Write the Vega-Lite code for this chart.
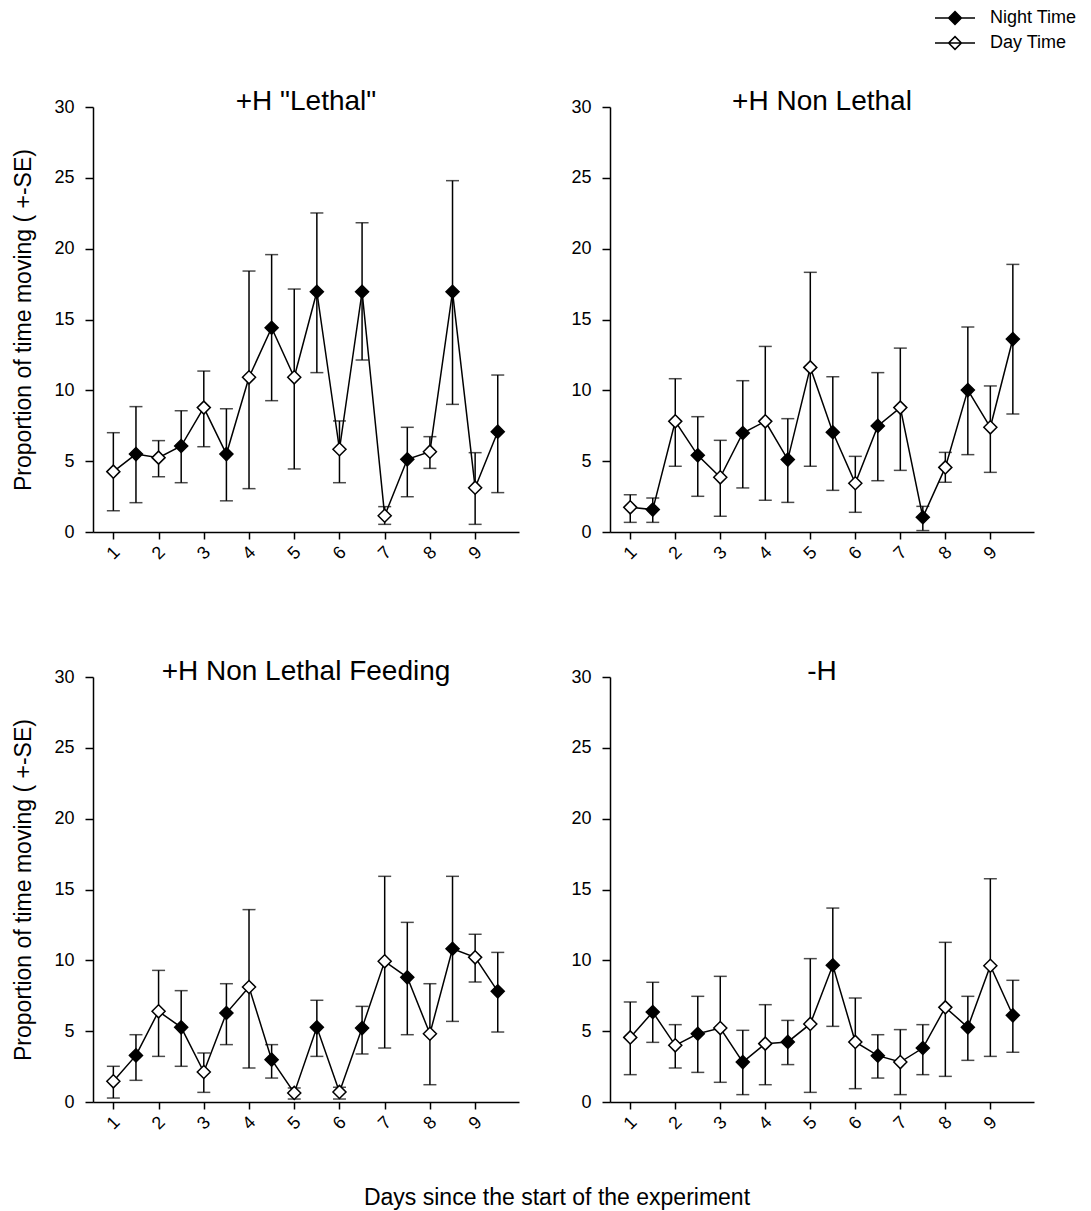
{
  "$schema": "https://vega.github.io/schema/vega-lite/v6.json",
  "background": "white",
  "padding": {"left": 12, "top": 7, "right": 5, "bottom": 5},
  "data": {
    "values": [
      {"panel": "L", "t": 1, "period": "Day Time", "mean": 4.26, "lo": 1.5, "hi": 7.01},
      {"panel": "L", "t": 1.5, "period": "Night Time", "mean": 5.5, "lo": 2.07, "hi": 8.85},
      {"panel": "L", "t": 2, "period": "Day Time", "mean": 5.25, "lo": 3.9, "hi": 6.45},
      {"panel": "L", "t": 2.5, "period": "Night Time", "mean": 6.07, "lo": 3.48, "hi": 8.56},
      {"panel": "L", "t": 3, "period": "Day Time", "mean": 8.78, "lo": 6.02, "hi": 11.36},
      {"panel": "L", "t": 3.5, "period": "Night Time", "mean": 5.5, "lo": 2.2, "hi": 8.7},
      {"panel": "L", "t": 4, "period": "Day Time", "mean": 10.92, "lo": 3.06, "hi": 18.42},
      {"panel": "L", "t": 4.5, "period": "Night Time", "mean": 14.42, "lo": 9.27, "hi": 19.58},
      {"panel": "L", "t": 5, "period": "Day Time", "mean": 10.92, "lo": 4.45, "hi": 17.15},
      {"panel": "L", "t": 5.5, "period": "Night Time", "mean": 16.96, "lo": 11.25, "hi": 22.52},
      {"panel": "L", "t": 6, "period": "Day Time", "mean": 5.84, "lo": 3.48, "hi": 7.84},
      {"panel": "L", "t": 6.5, "period": "Night Time", "mean": 16.96, "lo": 12.14, "hi": 21.83},
      {"panel": "L", "t": 7, "period": "Day Time", "mean": 1.15, "lo": 0.54, "hi": 1.79},
      {"panel": "L", "t": 7.5, "period": "Night Time", "mean": 5.13, "lo": 2.49, "hi": 7.39},
      {"panel": "L", "t": 8, "period": "Day Time", "mean": 5.67, "lo": 4.49, "hi": 6.73},
      {"panel": "L", "t": 8.5, "period": "Night Time", "mean": 16.96, "lo": 9.01, "hi": 24.8},
      {"panel": "L", "t": 9, "period": "Day Time", "mean": 3.13, "lo": 0.54, "hi": 5.6},
      {"panel": "L", "t": 9.5, "period": "Night Time", "mean": 7.08, "lo": 2.78, "hi": 11.08},

      {"panel": "NL", "t": 1, "period": "Day Time", "mean": 1.74, "lo": 0.68, "hi": 2.63},
      {"panel": "NL", "t": 1.5, "period": "Night Time", "mean": 1.58, "lo": 0.68, "hi": 2.4},
      {"panel": "NL", "t": 2, "period": "Day Time", "mean": 7.81, "lo": 4.64, "hi": 10.82},
      {"panel": "NL", "t": 2.5, "period": "Night Time", "mean": 5.41, "lo": 2.52, "hi": 8.14},
      {"panel": "NL", "t": 3, "period": "Day Time", "mean": 3.86, "lo": 1.11, "hi": 6.47},
      {"panel": "NL", "t": 3.5, "period": "Night Time", "mean": 6.99, "lo": 3.11, "hi": 10.68},
      {"panel": "NL", "t": 4, "period": "Day Time", "mean": 7.81, "lo": 2.24, "hi": 13.1},
      {"panel": "NL", "t": 4.5, "period": "Night Time", "mean": 5.11, "lo": 2.09, "hi": 8.0},
      {"panel": "NL", "t": 5, "period": "Day Time", "mean": 11.62, "lo": 4.64, "hi": 18.33},
      {"panel": "NL", "t": 5.5, "period": "Night Time", "mean": 7.04, "lo": 2.94, "hi": 10.96},
      {"panel": "NL", "t": 6, "period": "Day Time", "mean": 3.44, "lo": 1.39, "hi": 5.34},
      {"panel": "NL", "t": 6.5, "period": "Night Time", "mean": 7.49, "lo": 3.62, "hi": 11.25},
      {"panel": "NL", "t": 7, "period": "Day Time", "mean": 8.78, "lo": 4.35, "hi": 12.98},
      {"panel": "NL", "t": 7.5, "period": "Night Time", "mean": 1.04, "lo": 0.1, "hi": 1.81},
      {"panel": "NL", "t": 8, "period": "Day Time", "mean": 4.56, "lo": 3.51, "hi": 5.62},
      {"panel": "NL", "t": 8.5, "period": "Night Time", "mean": 10.02, "lo": 5.46, "hi": 14.47},
      {"panel": "NL", "t": 9, "period": "Day Time", "mean": 7.39, "lo": 4.21, "hi": 10.31},
      {"panel": "NL", "t": 9.5, "period": "Night Time", "mean": 13.62, "lo": 8.33, "hi": 18.89},

      {"panel": "F", "t": 1, "period": "Day Time", "mean": 1.46, "lo": 0.28, "hi": 2.52},
      {"panel": "F", "t": 1.5, "period": "Night Time", "mean": 3.29, "lo": 1.53, "hi": 4.75},
      {"panel": "F", "t": 2, "period": "Day Time", "mean": 6.4, "lo": 3.22, "hi": 9.29},
      {"panel": "F", "t": 2.5, "period": "Night Time", "mean": 5.27, "lo": 2.52, "hi": 7.86},
      {"panel": "F", "t": 3, "period": "Day Time", "mean": 2.12, "lo": 0.68, "hi": 3.46},
      {"panel": "F", "t": 3.5, "period": "Night Time", "mean": 6.28, "lo": 4.05, "hi": 8.35},
      {"panel": "F", "t": 4, "period": "Day Time", "mean": 8.12, "lo": 2.4, "hi": 13.58},
      {"panel": "F", "t": 4.5, "period": "Night Time", "mean": 2.99, "lo": 1.69, "hi": 4.05},
      {"panel": "F", "t": 5, "period": "Day Time", "mean": 0.64, "lo": 0.21, "hi": 0.99},
      {"panel": "F", "t": 5.5, "period": "Night Time", "mean": 5.27, "lo": 3.22, "hi": 7.18},
      {"panel": "F", "t": 6, "period": "Day Time", "mean": 0.71, "lo": 0.21, "hi": 1.04},
      {"panel": "F", "t": 6.5, "period": "Night Time", "mean": 5.22, "lo": 3.39, "hi": 6.75},
      {"panel": "F", "t": 7, "period": "Day Time", "mean": 9.93, "lo": 3.81, "hi": 15.93},
      {"panel": "F", "t": 7.5, "period": "Night Time", "mean": 8.8, "lo": 4.75, "hi": 12.68},
      {"panel": "F", "t": 8, "period": "Day Time", "mean": 4.82, "lo": 1.22, "hi": 8.35},
      {"panel": "F", "t": 8.5, "period": "Night Time", "mean": 10.82, "lo": 5.69, "hi": 15.93},
      {"panel": "F", "t": 9, "period": "Day Time", "mean": 10.21, "lo": 8.47, "hi": 11.84},
      {"panel": "F", "t": 9.5, "period": "Night Time", "mean": 7.81, "lo": 4.94, "hi": 10.56},

      {"panel": "C", "t": 1, "period": "Day Time", "mean": 4.56, "lo": 1.93, "hi": 7.06},
      {"panel": "C", "t": 1.5, "period": "Night Time", "mean": 6.35, "lo": 4.21, "hi": 8.45},
      {"panel": "C", "t": 2, "period": "Day Time", "mean": 4.0, "lo": 2.4, "hi": 5.46},
      {"panel": "C", "t": 2.5, "period": "Night Time", "mean": 4.82, "lo": 2.09, "hi": 7.46},
      {"panel": "C", "t": 3, "period": "Day Time", "mean": 5.22, "lo": 1.39, "hi": 8.87},
      {"panel": "C", "t": 3.5, "period": "Night Time", "mean": 2.82, "lo": 0.52, "hi": 5.06},
      {"panel": "C", "t": 4, "period": "Day Time", "mean": 4.12, "lo": 1.22, "hi": 6.87},
      {"panel": "C", "t": 4.5, "period": "Night Time", "mean": 4.24, "lo": 2.64, "hi": 5.76},
      {"panel": "C", "t": 5, "period": "Day Time", "mean": 5.51, "lo": 0.68, "hi": 10.12},
      {"panel": "C", "t": 5.5, "period": "Night Time", "mean": 9.65, "lo": 5.34, "hi": 13.69},
      {"panel": "C", "t": 6, "period": "Day Time", "mean": 4.24, "lo": 0.94, "hi": 7.34},
      {"panel": "C", "t": 6.5, "period": "Night Time", "mean": 3.27, "lo": 1.69, "hi": 4.75},
      {"panel": "C", "t": 7, "period": "Day Time", "mean": 2.82, "lo": 0.52, "hi": 5.11},
      {"panel": "C", "t": 7.5, "period": "Night Time", "mean": 3.81, "lo": 1.93, "hi": 5.46},
      {"panel": "C", "t": 8, "period": "Day Time", "mean": 6.68, "lo": 1.81, "hi": 11.27},
      {"panel": "C", "t": 8.5, "period": "Night Time", "mean": 5.27, "lo": 2.94, "hi": 7.46},
      {"panel": "C", "t": 9, "period": "Day Time", "mean": 9.62, "lo": 3.22, "hi": 15.76},
      {"panel": "C", "t": 9.5, "period": "Night Time", "mean": 6.12, "lo": 3.51, "hi": 8.59}
    ]
  },
  "title": {
    "text": "Days since the start of the experiment",
    "orient": "bottom",
    "anchor": "middle",
    "fontSize": 23,
    "fontWeight": "normal",
    "font": "Liberation Sans",
    "color": "black",
    "baseline": "top",
    "offset": 54,
    "dx": 12
  },
  "spacing": 95,
  "vconcat": [
    {
      "spacing": 51,
      "hconcat": [
        {
          "width": 426, "height": 425,
          "title": {"text": "+H \"Lethal\""},
          "transform": [{"filter": "datum.panel == 'L'"}],
          "encoding": {
            "x": {"field": "t", "type": "quantitative", "scale": {"domain": [0.55, 9.97], "nice": false, "zero": false}},
            "y": {"field": "mean", "type": "quantitative", "scale": {"domain": [0, 30], "nice": false}, "axis": {"title": "Proportion of time moving ( +-SE)", "values": [0, 5, 10, 15, 20, 25, 30]}}
          },
          "layer": [
            {"mark": {"type": "errorbar", "color": "black", "thickness": 1.5, "ticks": {"size": 13, "thickness": 1.5, "color": "black"}},
             "encoding": {"y": {"field": "lo", "type": "quantitative", "scale": {"domain": [0, 30], "nice": false}, "axis": {"title": "Proportion of time moving ( +-SE)", "values": [0, 5, 10, 15, 20, 25, 30]}}, "y2": {"field": "hi"}}},
            {"mark": {"type": "line", "color": "black", "strokeWidth": 1.5}},
            {"mark": {"type": "point", "shape": "diamond", "size": 170, "filled": true, "stroke": "black", "strokeWidth": 1.5, "opacity": 1},
             "encoding": {"fill": {"field": "period", "type": "nominal", "scale": {"domain": ["Night Time", "Day Time"], "range": ["black", "white"]}}}}
          ]
        },
        {
          "width": 424, "height": 425,
          "title": {"text": "+H Non Lethal"},
          "transform": [{"filter": "datum.panel == 'NL'"}],
          "encoding": {
            "x": {"field": "t", "type": "quantitative", "scale": {"domain": [0.55, 9.97], "nice": false, "zero": false}},
            "y": {"field": "mean", "type": "quantitative", "scale": {"domain": [0, 30], "nice": false}, "axis": {"title": null, "values": [0, 5, 10, 15, 20, 25, 30]}}
          },
          "layer": [
            {"mark": {"type": "errorbar", "color": "black", "thickness": 1.5, "ticks": {"size": 13, "thickness": 1.5, "color": "black"}},
             "encoding": {"y": {"field": "lo", "type": "quantitative", "scale": {"domain": [0, 30], "nice": false}, "axis": {"title": null, "values": [0, 5, 10, 15, 20, 25, 30]}}, "y2": {"field": "hi"}}},
            {"mark": {"type": "line", "color": "black", "strokeWidth": 1.5}},
            {"mark": {"type": "point", "shape": "diamond", "size": 170, "filled": true, "stroke": "black", "strokeWidth": 1.5, "opacity": 1},
             "encoding": {"fill": {"field": "period", "type": "nominal", "scale": {"domain": ["Night Time", "Day Time"], "range": ["black", "white"]}}}}
          ]
        }
      ]
    },
    {
      "spacing": 51,
      "hconcat": [
        {
          "width": 426, "height": 425,
          "title": {"text": "+H Non Lethal Feeding"},
          "transform": [{"filter": "datum.panel == 'F'"}],
          "encoding": {
            "x": {"field": "t", "type": "quantitative", "scale": {"domain": [0.55, 9.97], "nice": false, "zero": false}},
            "y": {"field": "mean", "type": "quantitative", "scale": {"domain": [0, 30], "nice": false}, "axis": {"title": "Proportion of time moving ( +-SE)", "values": [0, 5, 10, 15, 20, 25, 30]}}
          },
          "layer": [
            {"mark": {"type": "errorbar", "color": "black", "thickness": 1.5, "ticks": {"size": 13, "thickness": 1.5, "color": "black"}},
             "encoding": {"y": {"field": "lo", "type": "quantitative", "scale": {"domain": [0, 30], "nice": false}, "axis": {"title": "Proportion of time moving ( +-SE)", "values": [0, 5, 10, 15, 20, 25, 30]}}, "y2": {"field": "hi"}}},
            {"mark": {"type": "line", "color": "black", "strokeWidth": 1.5}},
            {"mark": {"type": "point", "shape": "diamond", "size": 170, "filled": true, "stroke": "black", "strokeWidth": 1.5, "opacity": 1},
             "encoding": {"fill": {"field": "period", "type": "nominal", "scale": {"domain": ["Night Time", "Day Time"], "range": ["black", "white"]}}}}
          ]
        },
        {
          "width": 424, "height": 425,
          "title": {"text": "-H"},
          "transform": [{"filter": "datum.panel == 'C'"}],
          "encoding": {
            "x": {"field": "t", "type": "quantitative", "scale": {"domain": [0.55, 9.97], "nice": false, "zero": false}},
            "y": {"field": "mean", "type": "quantitative", "scale": {"domain": [0, 30], "nice": false}, "axis": {"title": null, "values": [0, 5, 10, 15, 20, 25, 30]}}
          },
          "layer": [
            {"mark": {"type": "errorbar", "color": "black", "thickness": 1.5, "ticks": {"size": 13, "thickness": 1.5, "color": "black"}},
             "encoding": {"y": {"field": "lo", "type": "quantitative", "scale": {"domain": [0, 30], "nice": false}, "axis": {"title": null, "values": [0, 5, 10, 15, 20, 25, 30]}}, "y2": {"field": "hi"}}},
            {"mark": {"type": "line", "color": "black", "strokeWidth": 1.5}},
            {"mark": {"type": "point", "shape": "diamond", "size": 170, "filled": true, "stroke": "black", "strokeWidth": 1.5, "opacity": 1},
             "encoding": {"fill": {"field": "period", "type": "nominal", "scale": {"domain": ["Night Time", "Day Time"], "range": ["black", "white"]}}}}
          ]
        }
      ]
    }
  ],
  "config": {
    "font": "Liberation Sans",
    "view": {"stroke": null},
    "axis": {
      "grid": false,
      "domainColor": "black",
      "domainWidth": 1.5,
      "tickColor": "black",
      "tickWidth": 1.5,
      "labelColor": "black",
      "titleColor": "black",
      "labelFont": "Liberation Sans",
      "titleFont": "Liberation Sans",
      "labelFontSize": 18,
      "titleFontSize": 23,
      "titleFontWeight": "normal"
    },
    "axisY": {
      "tickSize": 8,
      "labelPadding": 11,
      "titlePadding": 18
    },
    "axisX": {
      "title": null,
      "tickSize": 7,
      "labelPadding": 14,
      "labelAngle": -45,
      "labelAlign": "center",
      "labelBaseline": "middle",
      "labelOverlap": false,
      "labelFlush": false,
      "labelBound": false,
      "values": [1, 1.5, 2, 2.5, 3, 3.5, 4, 4.5, 5, 5.5, 6, 6.5, 7, 7.5, 8, 8.5, 9, 9.5],
      "labelExpr": "datum.value % 1 == 0 ? datum.label : ''"
    },
    "title": {
      "font": "Liberation Sans",
      "fontSize": 28,
      "fontWeight": "normal",
      "color": "black",
      "anchor": "middle",
      "baseline": "alphabetic",
      "offset": -18
    },
    "legend": {
      "orient": "none",
      "legendX": 851,
      "legendY": -100,
      "title": null,
      "symbolType": "M-2,0H2M0,-0.64L0.64,0L0,0.64L-0.64,0Z",
      "symbolSize": 400,
      "symbolStrokeColor": "black",
      "symbolStrokeWidth": 1.5,
      "symbolOpacity": 1,
      "labelFont": "Liberation Sans",
      "labelFontSize": 18,
      "labelColor": "black",
      "labelOffset": 24,
      "rowPadding": 4
    }
  }
}
